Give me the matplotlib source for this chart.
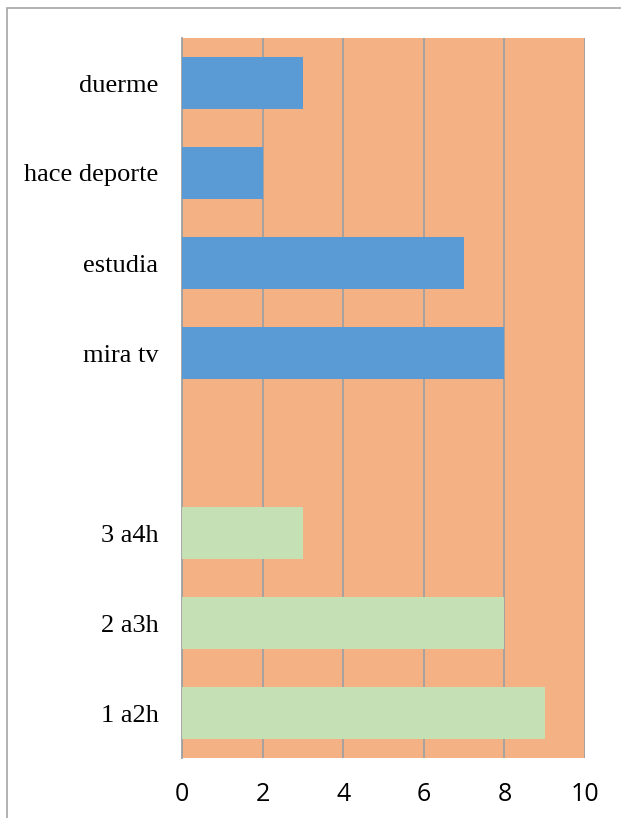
import matplotlib.pyplot as plt
from matplotlib.patches import Rectangle
import numpy as np

# Data (top to bottom as shown)
activities = ["duerme", "hace deporte", "estudia", "mira tv"]
activity_values = [3, 2, 7, 8]
hours = ["3 a4h", "2 a3h", "1 a2h"]
hour_values = [3, 8, 9]
x_ticks = [0, 2, 4, 6, 8, 10]

BLUE = "#5B9BD5"
GREEN = "#C5E0B4"
ORANGE = "#F4B183"
GRID = "#A0A0A0"

labels = activities + [""] + hours
n_slots = len(labels)
# y positions counted from top
pos = {lab: n_slots - 1 - i for i, lab in enumerate(labels) if lab}

fig = plt.figure(figsize=(6.21, 8.18), dpi=100)
fig.patches.append(Rectangle((7 / 621, -0.01), 1.0, 1 - 8 / 818 + 0.01,
                             transform=fig.transFigure, fill=False,
                             edgecolor="#A6A6A6", linewidth=1.2))
ax = fig.add_axes([182 / 621, 1 - 758 / 818, (585 - 182) / 621, 720 / 818])
ax.set_facecolor(ORANGE)

bh = 0.57
ax.barh([pos[a] for a in activities], activity_values, height=bh, color=BLUE, zorder=3)
ax.barh([pos[h] for h in hours], hour_values, height=bh, color=GREEN, zorder=3)

ax.set_xlim(0, 10)
ax.set_ylim(-0.5, n_slots - 0.5)
ax.set_xticks(x_ticks, labels=[str(t) for t in x_ticks])
ax.set_yticks([n_slots - 1 - i for i in range(n_slots)], labels=labels)
ax.tick_params(axis="x", length=0, pad=17, labelsize=18)
ax.tick_params(axis="y", length=0, pad=17, labelsize=19)
for t in ax.get_xticklabels():
    t.set_family("Open Sans")
for t in ax.get_yticklabels():
    t.set_family("Liberation Serif")

ax.grid(axis="x", color=GRID, linewidth=1.3, zorder=1)
ax.set_axisbelow(True)
for side in ["top", "right", "bottom"]:
    ax.spines[side].set_visible(False)
ax.spines["left"].set_color(GRID)
ax.spines["left"].set_linewidth(1.3)

fig.savefig("out.png", dpi=100)
